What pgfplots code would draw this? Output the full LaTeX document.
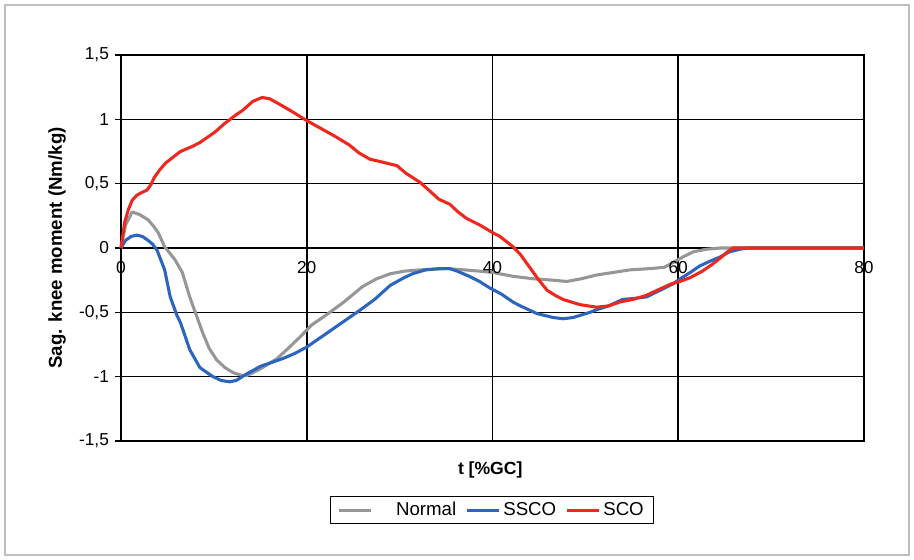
\documentclass[border=0pt]{standalone}
\usepackage{pgfplots}
\pgfplotsset{compat=1.18}
\usepackage{fontspec}
\setmainfont{Liberation Sans}

\definecolor{cnormal}{RGB}{150,150,150}
\definecolor{cssco}{RGB}{43,101,189}
\definecolor{csco}{RGB}{238,40,30}

\begin{document}
\begin{tikzpicture}[x=0.75pt,y=0.75pt]
% page = 914 x 560 px, 1 px = 0.75pt
\path[use as bounding box] (0,0) rectangle (914,560);
\draw[black!25, line width=0.9pt] (5,5) rectangle (909,555);

\begin{axis}[
    at={(121*0.75pt,119*0.75pt)}, anchor=south west,
    scale only axis, clip=false,
    width=557.25pt, height=289.5pt,
    xmin=0, xmax=80, ymin=-1.5, ymax=1.5,
    xtick={0,20,40,60,80}, xticklabels={},
    ytick={-1.5,-1,-0.5,0,0.5,1,1.5},
    yticklabels={{-1,5},{-1},{-0,5},{0},{0,5},{1},{1,5}},
    ytick pos=left,
    major tick length=4.5pt,
    ytick style={black, line width=1.1pt},
    xtick style={draw=none},
    tick align=outside,
    grid=major,
    major grid style={black, line width=1.2pt},
    axis line style={black, line width=1.2pt},
    tick label style={font=\fontsize{13}{15}\selectfont, text=black},
    yticklabel style={xshift=-1pt},
    xlabel={\textbf{t [\%GC]}},
    xlabel style={at={(rel axis cs:0.497,-0.075)}, anchor=center, font=\fontsize{13.2}{15}\selectfont},
    ylabel={\textbf{Sag. knee moment (Nm/kg)}},
    ylabel style={at={(rel axis cs:-0.086,0.5)}, anchor=center, font=\fontsize{14}{16}\selectfont},
    legend columns=3,
    legend style={at={(rel axis cs:0.499,-0.179)}, anchor=center,
        draw=black, line width=0.9pt, font=\fontsize{14}{16}\selectfont,
        /tikz/every even column/.append style={column sep=5pt},
        inner ysep=2.5pt, inner xsep=5pt},
    legend image code/.code={\draw[#1, line width=2.3pt] (0pt,0pt) -- (24pt,0pt);},
    every axis plot/.append style={line width=2.3pt, line join=round},
]

\addplot[cnormal] coordinates {
(0,0) (0.5,0.18) (1.2,0.28) (2,0.26) (2.9,0.22) (3.5,0.17) (4,0.12) (4.7,0.01)
(5.8,-0.09) (6.6,-0.19) (7.4,-0.38) (8.1,-0.52) (8.8,-0.66) (9.5,-0.78) (10.3,-0.87)
(11.2,-0.93) (12.1,-0.97) (13,-0.99) (13.6,-0.99) (15,-0.94) (16.8,-0.86) (18,-0.78)
(19.3,-0.69) (20.5,-0.60) (22.3,-0.51) (24,-0.42) (26,-0.30) (27.5,-0.24) (29,-0.20)
(30.5,-0.18) (32.2,-0.17) (35,-0.16) (37,-0.17) (38.6,-0.18) (40,-0.19) (42.2,-0.22)
(44.5,-0.24) (46.5,-0.25) (48,-0.26) (49.5,-0.24) (51.2,-0.21) (53,-0.19) (54.8,-0.17)
(57,-0.16) (58.5,-0.15) (59.5,-0.11) (60.5,-0.07) (61.6,-0.03) (63,-0.01) (64.5,0)
(66,0) (80,0)
};
\addlegendentry{\hspace{16pt}Normal\hspace{16pt}}

\addplot[cssco] coordinates {
(0,0) (0.5,0.06) (1.1,0.09) (1.7,0.10) (2.3,0.09) (2.9,0.06) (3.4,0.03) (3.9,-0.02)
(4.7,-0.17) (5.3,-0.38) (6,-0.52) (6.4,-0.58) (7.4,-0.79) (8.5,-0.93) (9.9,-1.0)
(10.8,-1.03) (11.7,-1.04) (12.4,-1.03) (13.5,-0.98) (15,-0.92) (16.2,-0.89) (17.4,-0.86)
(18.7,-0.82) (20,-0.77) (21.2,-0.71) (22.8,-0.63) (24.2,-0.56) (25.6,-0.49) (27.3,-0.40)
(29,-0.29) (30.5,-0.23) (31.4,-0.20) (32.8,-0.17) (34.3,-0.16) (35.4,-0.16) (36.2,-0.18)
(37.5,-0.22) (38.6,-0.26) (39.7,-0.31) (41,-0.36) (42.2,-0.42) (43,-0.45) (44.8,-0.51)
(46.5,-0.54) (47.6,-0.55) (48.7,-0.54) (50.5,-0.50) (51.2,-0.48) (52.5,-0.45) (54,-0.40)
(55.5,-0.39) (56.6,-0.38) (58,-0.33) (59.4,-0.28) (60.2,-0.24) (61.3,-0.19) (62.3,-0.14)
(63.5,-0.10) (64.5,-0.07) (65.5,-0.03) (66.6,-0.01) (67.5,0) (80,0)
};
\addlegendentry{SSCO}

\addplot[csco] coordinates {
(0,0) (0.4,0.2) (0.8,0.3) (1.2,0.37) (1.7,0.41) (2.2,0.43) (2.8,0.45) (3.2,0.49)
(3.6,0.55) (4.2,0.61) (4.8,0.66) (5.5,0.70) (6.4,0.75) (7.7,0.79) (8.5,0.82) (9.3,0.86)
(10.1,0.90) (11.2,0.97) (12.3,1.03) (13.1,1.07) (14.2,1.14) (15.2,1.17) (16,1.16)
(17,1.12) (18.2,1.07) (20,0.99) (21.5,0.93) (23,0.87) (24.6,0.80) (25.6,0.74)
(26.8,0.69) (28,0.67) (29.7,0.64) (30.7,0.58) (32.2,0.51) (33.3,0.44) (34.2,0.38)
(35.4,0.34) (36.3,0.28) (37.2,0.23) (38.6,0.18) (40,0.12) (40.8,0.09) (41.5,0.05)
(42.2,0.01) (43,-0.05) (44,-0.15) (45,-0.25) (45.9,-0.33) (46.8,-0.37) (47.6,-0.40)
(49.4,-0.44) (51.2,-0.46) (52.5,-0.45) (53.7,-0.42) (55.1,-0.40) (56.5,-0.37) (58,-0.32)
(59.2,-0.28) (60.2,-0.26) (61.3,-0.23) (62.6,-0.18) (63.6,-0.13) (64.5,-0.08)
(65.3,-0.03) (65.9,0) (67,0) (80,0)
};
\addlegendentry{SCO}

% x tick labels sit on the zero line
\pgfplotsinvokeforeach{0,20,40,60,80}{
  \node[anchor=north, font=\fontsize{13}{15}\selectfont, inner sep=0pt, yshift=-10pt] at (axis cs:#1,0) {#1};
}
\end{axis}
\end{tikzpicture}
\end{document}
